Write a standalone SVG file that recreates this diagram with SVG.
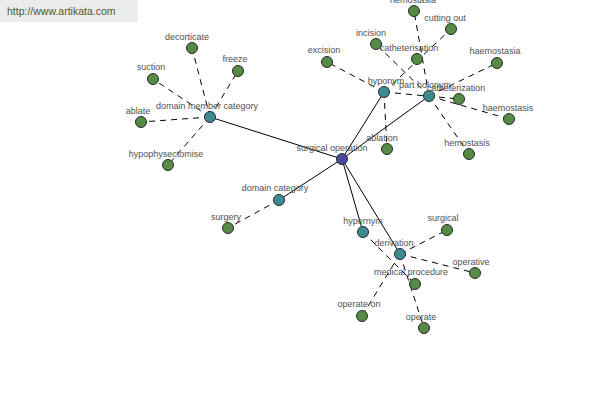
<svg xmlns="http://www.w3.org/2000/svg" width="600" height="400" viewBox="0 0 600 400">
<style>
.bg{fill:#ffffff}
text{font-family:"Liberation Sans",Arial,sans-serif;font-size:9px;fill:#505050;text-anchor:middle}
.hdr{font-size:10.5px;fill:#4b5a26;text-anchor:start}
.solid{stroke:#000;stroke-width:1;fill:none}
.dash{stroke:#000;stroke-width:1;fill:none;stroke-dasharray:6,5}
.leaf{fill:#548c45;stroke:#2a2a2a;stroke-width:1}
.rel{fill:#3d8b92;stroke:#2a2a2a;stroke-width:1}
.root{fill:#4848a0;stroke:#2a2a2a;stroke-width:1}
</style>
<rect class="bg" x="0" y="0" width="600" height="400"/>
<g id="header">
<rect x="0" y="0" width="138" height="22" fill="#ececec"/>
<text class="hdr" x="7" y="15">http://www.artikata.com</text>
</g>
<g id="connectors">
<line class="solid" x1="342" y1="159" x2="210" y2="117"/>
<line class="solid" x1="342" y1="159" x2="279" y2="200"/>
<line class="solid" x1="342" y1="159" x2="384" y2="92"/>
<line class="solid" x1="342" y1="159" x2="429" y2="96"/>
<line class="solid" x1="342" y1="159" x2="363" y2="232"/>
<line class="solid" x1="342" y1="159" x2="400" y2="254"/>
<line class="dash" x1="210" y1="117" x2="192" y2="48"/>
<line class="dash" x1="210" y1="117" x2="238" y2="71"/>
<line class="dash" x1="210" y1="117" x2="153" y2="79"/>
<line class="dash" x1="210" y1="117" x2="141" y2="122"/>
<line class="dash" x1="210" y1="117" x2="168" y2="165"/>
<line class="dash" x1="279" y1="200" x2="228" y2="228"/>
<line class="dash" x1="384" y1="92" x2="327" y2="62"/>
<line class="dash" x1="384" y1="92" x2="451" y2="29"/>
<line class="dash" x1="384" y1="92" x2="387" y2="149"/>
<line class="dash" x1="384" y1="92" x2="459" y2="99"/>
<line class="dash" x1="429" y1="96" x2="376" y2="44"/>
<line class="dash" x1="429" y1="96" x2="414" y2="11"/>
<line class="dash" x1="429" y1="96" x2="497" y2="63"/>
<line class="dash" x1="429" y1="96" x2="509" y2="119"/>
<line class="dash" x1="429" y1="96" x2="469" y2="154"/>
<line class="dash" x1="363" y1="232" x2="415" y2="284"/>
<line class="dash" x1="400" y1="254" x2="447" y2="230"/>
<line class="dash" x1="400" y1="254" x2="475" y2="273"/>
<line class="dash" x1="400" y1="254" x2="362" y2="316"/>
<line class="dash" x1="400" y1="254" x2="424" y2="328"/>
</g>
<g id="n-surgical-operation"><circle class="root" cx="342" cy="159" r="5.5"/><text x="332" y="151">surgical operation</text></g>
<g id="n-domain-member-category"><circle class="rel" cx="210" cy="117" r="5.5"/><text x="207" y="109">domain member category</text></g>
<g id="n-domain-category"><circle class="rel" cx="279" cy="200" r="5.5"/><text x="275" y="191">domain category</text></g>
<g id="n-hyponym"><circle class="rel" cx="384" cy="92" r="5.5"/><text x="386" y="84">hyponym</text></g>
<g id="n-part-holonym"><circle class="rel" cx="429" cy="96" r="5.5"/><text x="425" y="88">part holonym</text></g>
<g id="n-hypernym"><circle class="rel" cx="363" cy="232" r="5.5"/><text x="363" y="224">hypernym</text></g>
<g id="n-derivation"><circle class="rel" cx="400" cy="254" r="5.5"/><text x="394" y="246">derivation</text></g>
<g id="n-decorticate"><circle class="leaf" cx="192" cy="48" r="5.5"/><text x="187" y="40">decorticate</text></g>
<g id="n-freeze"><circle class="leaf" cx="238" cy="71" r="5.5"/><text x="235" y="62">freeze</text></g>
<g id="n-suction"><circle class="leaf" cx="153" cy="79" r="5.5"/><text x="151" y="70">suction</text></g>
<g id="n-ablate"><circle class="leaf" cx="141" cy="122" r="5.5"/><text x="138" y="114">ablate</text></g>
<g id="n-hypophysectomise"><circle class="leaf" cx="168" cy="165" r="5.5"/><text x="166" y="157">hypophysectomise</text></g>
<g id="n-surgery"><circle class="leaf" cx="228" cy="228" r="5.5"/><text x="226" y="220">surgery</text></g>
<g id="n-excision"><circle class="leaf" cx="327" cy="62" r="5.5"/><text x="324" y="53">excision</text></g>
<g id="n-incision"><circle class="leaf" cx="376" cy="44" r="5.5"/><text x="371" y="36">incision</text></g>
<g id="n-catheterisation"><circle class="leaf" cx="417" cy="59" r="5.5"/><text x="409" y="51">catheterisation</text></g>
<g id="n-hemostasia"><circle class="leaf" cx="414" cy="11" r="5.5"/><text x="413" y="3">hemostasia</text></g>
<g id="n-cutting-out"><circle class="leaf" cx="451" cy="29" r="5.5"/><text x="445" y="21">cutting out</text></g>
<g id="n-haemostasia"><circle class="leaf" cx="497" cy="63" r="5.5"/><text x="495" y="54">haemostasia</text></g>
<g id="n-catheterization"><circle class="leaf" cx="459" cy="99" r="5.5"/><text x="456" y="91">catheterization</text></g>
<g id="n-haemostasis"><circle class="leaf" cx="509" cy="119" r="5.5"/><text x="508" y="111">haemostasis</text></g>
<g id="n-hemostasis"><circle class="leaf" cx="469" cy="154" r="5.5"/><text x="467" y="146">hemostasis</text></g>
<g id="n-ablation"><circle class="leaf" cx="387" cy="149" r="5.5"/><text x="382" y="141">ablation</text></g>
<g id="n-surgical"><circle class="leaf" cx="447" cy="230" r="5.5"/><text x="443" y="221">surgical</text></g>
<g id="n-operative"><circle class="leaf" cx="475" cy="273" r="5.5"/><text x="471" y="265">operative</text></g>
<g id="n-medical-procedure"><circle class="leaf" cx="415" cy="284" r="5.5"/><text x="411" y="275">medical procedure</text></g>
<g id="n-operate-on"><circle class="leaf" cx="362" cy="316" r="5.5"/><text x="359" y="307">operate on</text></g>
<g id="n-operate"><circle class="leaf" cx="424" cy="328" r="5.5"/><text x="421" y="320">operate</text></g>
</svg>
